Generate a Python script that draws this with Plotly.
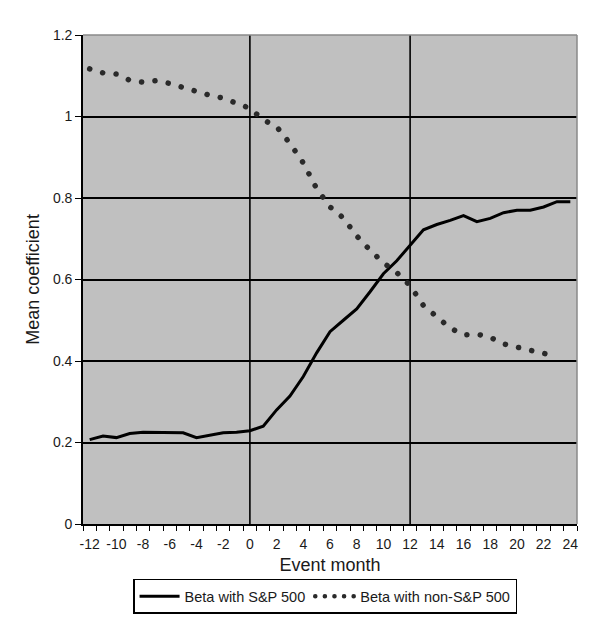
import plotly.graph_objects as go

months_sp = list(range(-12, 25))
beta_sp = [0.207, 0.216, 0.212, 0.222, 0.225, 0.225, 0.225, 0.224, 0.212, 0.218,
           0.224, 0.225, 0.229, 0.240, 0.280, 0.314, 0.362, 0.420, 0.472, 0.500,
           0.528, 0.570, 0.614, 0.646, 0.685, 0.722, 0.735, 0.745, 0.757, 0.742,
           0.750, 0.764, 0.770, 0.770, 0.778, 0.791, 0.791]

months_non = list(range(-12, 24))
beta_non = [1.117, 1.107, 1.104, 1.089, 1.084, 1.088, 1.081, 1.071, 1.062, 1.052,
            1.045, 1.033, 1.020, 0.992, 0.975, 0.934, 0.886, 0.823, 0.778, 0.751,
            0.707, 0.672, 0.641, 0.617, 0.585, 0.536, 0.508, 0.481, 0.464, 0.466,
            0.458, 0.442, 0.434, 0.427, 0.419, 0.411]

x_tick_vals = list(range(-12, 25, 2))
x_tick_text = [str(v) for v in x_tick_vals]
y_tick_vals = [0, 0.2, 0.4, 0.6, 0.8, 1, 1.2]
y_tick_text = ["0", "0.2", "0.4", "0.6", "0.8", "1", "1.2"]
vlines = [0, 12]

FONT = "Liberation Sans, Arial, sans-serif"

fig = go.Figure()
fig.add_trace(go.Scatter(
    x=months_sp, y=beta_sp, mode="lines", name="Beta with S&P 500",
    line=dict(color="black", width=3)))
fig.add_trace(go.Scatter(
    x=months_non, y=beta_non, mode="lines", name="Beta with non-S&P 500",
    line=dict(color="#2a2a2a", width=5.5, dash="5px,8.4px")))

for v in vlines:
    fig.add_shape(type="line", xref="x", yref="paper", x0=v, x1=v, y0=0, y1=1,
                  line=dict(color="black", width=1.6), layer="below")
# grey top/right border
fig.add_shape(type="line", xref="paper", yref="paper", x0=0, x1=1, y0=1, y1=1,
              line=dict(color="#8a8a8a", width=1.5), layer="above")
fig.add_shape(type="line", xref="paper", yref="paper", x0=1, x1=1, y0=0, y1=1,
              line=dict(color="#8a8a8a", width=1.5), layer="above")

fig.update_layout(
    width=600, height=637,
    margin=dict(l=83, r=23, t=35, b=113, autoexpand=False),
    paper_bgcolor="white", plot_bgcolor="#c0c0c0",
    font=dict(family=FONT, size=14, color="#1a1a1a"),
    showlegend=True,
    legend=dict(orientation="h", x=0.49, xanchor="center", y=-0.148, yanchor="middle",
                bordercolor="black", borderwidth=1.5, bgcolor="white",
                font=dict(family=FONT, size=14.5, color="#1a1a1a"),
                itemwidth=40, tracegroupgap=0),
    xaxis=dict(range=[-12.5, 24.5], tickmode="array", tickvals=x_tick_vals,
               ticktext=x_tick_text,
               ticks="", showgrid=False, zeroline=False, automargin=False,
               showline=True, linecolor="black", linewidth=1.6,
               tickfont=dict(size=14), ticklabelstandoff=6,
               minor=dict(tick0=-12.5, dtick=1, ticks="outside", ticklen=5,
                          tickcolor="black", tickwidth=1.3, showgrid=False),
               title=dict(text="Event month", font=dict(size=18), standoff=8)),
    yaxis=dict(range=[0, 1.2], tickmode="array", tickvals=y_tick_vals, ticktext=y_tick_text,
               ticks="outside", ticklen=6, tickcolor="black", tickwidth=1.3,
               showgrid=True, gridcolor="black", gridwidth=1.6, zeroline=False,
               automargin=False,
               showline=True, linecolor="black", linewidth=1.6,
               tickfont=dict(size=14),
               title=dict(text="Mean coefficient", font=dict(size=18), standoff=9)),
)

post = """
document.body.style.margin = '0';
document.body.style.padding = '0';
document.documentElement.style.margin = '0';
var gd = document.getElementById('{plot_id}');
function fixDots(){
  var traces = gd.querySelectorAll('.scatterlayer .trace');
  if (traces.length > 1) {
    traces[1].querySelectorAll('path.js-line').forEach(function(p){
      p.style.strokeLinecap = 'round';
      p.style.strokeDasharray = '0.1px,13.4px';
    });
  }
  var lt = gd.querySelectorAll('.legend .traces');
  if (lt.length > 1) {
    lt[1].querySelectorAll('.legendlines path').forEach(function(p){
      p.style.strokeLinecap = 'round';
      p.style.strokeDasharray = '0.1px,9.5px';
      p.style.strokeWidth = '4.5px';
    });
  }
}
fixDots();
gd.on('plotly_afterplot', fixDots);
"""

fig.write_html("out.html", post_script=post, config={"displayModeBar": False})
